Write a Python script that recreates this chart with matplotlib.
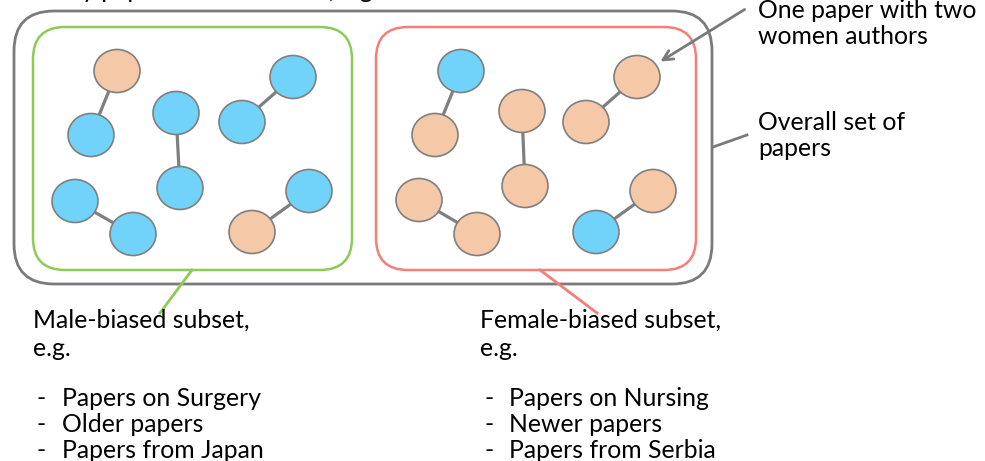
import matplotlib.pyplot as plt
from matplotlib.patches import Ellipse, FancyBboxPatch

# nodes of the male-biased subset (left box): x, y, gender
male_x = [117, 91, 176, 180, 242, 293, 75, 133, 252, 309]
male_y = [71, 135, 113, 188, 122, 77, 201, 234, 232, 191]
male_g = ['F', 'M', 'M', 'M', 'M', 'M', 'M', 'M', 'F', 'M']

# nodes of the female-biased subset (right box)
female_x = [461, 435, 522, 525, 586, 637, 419, 477, 596, 653]
female_y = [71, 135, 111, 186, 122, 77, 200, 234, 232, 191]
female_g = ['M', 'F', 'F', 'F', 'F', 'F', 'F', 'F', 'M', 'F']

# each paper joins two authors (node indices)
papers = [(0, 1), (2, 3), (4, 5), (6, 7), (8, 9)]

male_label = ['Male-biased subset,', 'e.g.']
male_items = ['Papers on Surgery', 'Older papers', 'Papers from Japan']
female_label = ['Female-biased subset,', 'e.g.']
female_items = ['Papers on Nursing', 'Newer papers', 'Papers from Serbia']

colors = {'M': '#72D3FA', 'F': '#F5C8A7'}
font = 'Lato'
fs = 17.8

fig = plt.figure(figsize=(9.85, 4.61), dpi=100)
ax = fig.add_axes([0, 0, 1, 1])
ax.set_xlim(0, 985)
ax.set_ylim(461, 0)
ax.axis('off')

# boxes
def box(x0, y0, x1, y1, r, color, lw):
    ax.add_patch(FancyBboxPatch((x0 + r, y0 + r), x1 - x0 - 2 * r, y1 - y0 - 2 * r,
                                boxstyle=f'round,pad={r}', fc='none', ec=color, lw=lw))

box(14, 11, 712, 284, 40, '#7A7A7A', 2.0)
box(33, 27, 352, 270, 32, '#8DCB55', 1.8)
box(376, 27, 696, 270, 32, '#F47F78', 1.8)

# pointers from boxes to labels
ax.plot([192, 160], [270, 313], color='#8DCB55', lw=2.0)
ax.plot([540, 597], [270, 313], color='#F47F78', lw=2.0)
ax.plot([713, 747], [147, 135], color='#7A7A7A', lw=2.0)
ax.annotate('', xy=(658, 63), xytext=(747, 8),
            arrowprops=dict(arrowstyle='->,head_length=0.7,head_width=0.35', color='#7A7A7A', lw=2.0))

# authors and papers
for xs, ys, gs in [(male_x, male_y, male_g), (female_x, female_y, female_g)]:
    for a, b in papers:
        ax.plot([xs[a], xs[b]], [ys[a], ys[b]], color='#7F7F7F', lw=2.3, zorder=2)
    for x, y, g in zip(xs, ys, gs):
        ax.add_patch(Ellipse((x, y), 46, 43, fc=colors[g], ec='#7F7F7F', lw=1.2, zorder=3))

# text (the title line is cut by the top edge, as in the original)
ax.text(33, -2, 'Many papers in the dataset, e.g.', fontsize=fs, family=font, va='baseline')
ax.text(758, 10, 'One paper with two', fontsize=fs, family=font, va='center')
ax.text(758, 36, 'women authors', fontsize=fs, family=font, va='center')
ax.text(758, 122, 'Overall set of', fontsize=fs, family=font, va='center')
ax.text(758, 148, 'papers', fontsize=fs, family=font, va='center')

for x0, label, items in [(33, male_label, male_items), (480, female_label, female_items)]:
    ax.text(x0, 320, label[0], fontsize=fs, family=font, va='center')
    ax.text(x0, 348, label[1], fontsize=fs, family=font, va='center')
    for i, item in enumerate(items):
        y = 398 + i * 26
        ax.text(x0 + 4, y, '-', fontsize=fs, family=font, va='center')
        ax.text(x0 + 29, y, item, fontsize=fs, family=font, va='center')

fig.savefig('out.png', dpi=100)
